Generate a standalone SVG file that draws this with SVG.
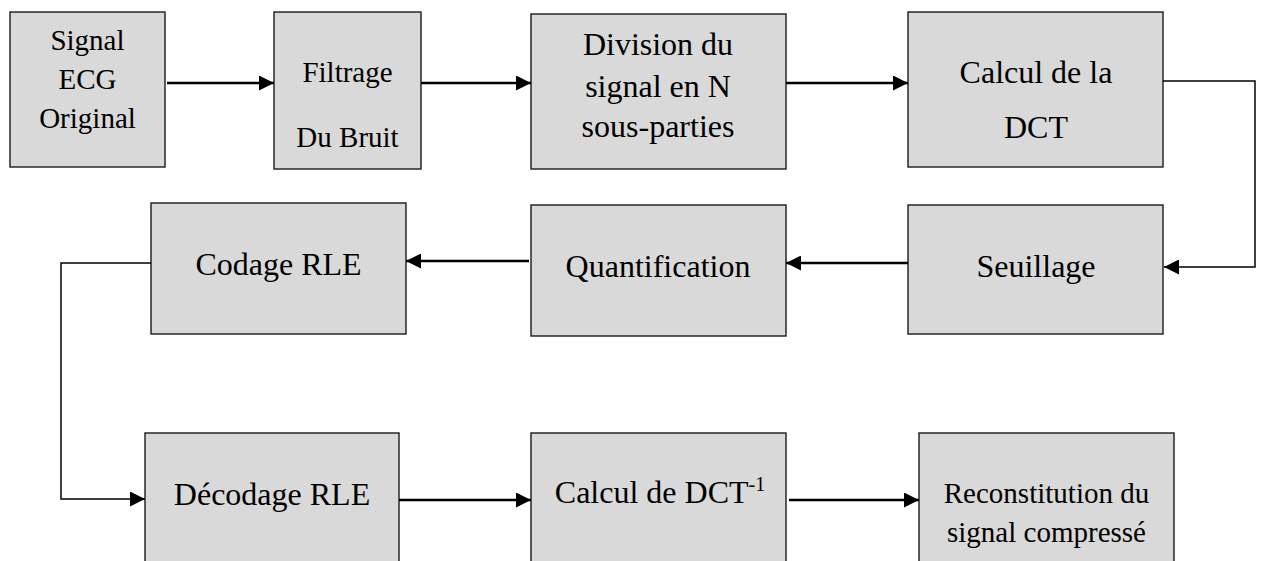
<svg xmlns="http://www.w3.org/2000/svg" width="1262" height="561" viewBox="0 0 1262 561">
<style>
.box{fill:#d9d9d9;stroke:#1a1a1a;stroke-width:1.4}
text{font-size:32px;fill:#000;text-anchor:middle}
.s{font-size:29px}
.a{fill:none;stroke:#000;stroke-width:2.4}
.e{fill:none;stroke:#000;stroke-width:1.5}
</style>
<defs>
<marker id="ah" markerWidth="15" markerHeight="15" refX="15" refY="7.5" orient="auto" markerUnits="userSpaceOnUse">
<path d="M0,0 L15,7.5 L0,15 Z" fill="#000"/>
</marker>
</defs>
<rect width="1262" height="561" fill="#fff"/>
<g font-family="Liberation Serif, Times New Roman, DejaVu Serif, serif">
<g id="n1"><rect class="box" x="10" y="12" width="155" height="155"/>
<text class="s" x="87.5" y="50">Signal</text><text class="s" x="87.5" y="89">ECG</text><text class="s" x="87.5" y="128">Original</text></g>
<g id="n2"><rect class="box" x="274" y="12" width="147" height="157"/>
<text class="s" x="347.5" y="82">Filtrage</text><text class="s" x="347.5" y="147">Du Bruit</text></g>
<g id="n3"><rect class="box" x="531" y="14" width="255" height="155"/>
<text x="658" y="55">Division du</text><text x="658" y="97">signal en N</text><text x="658" y="137">sous-parties</text></g>
<g id="n4"><rect class="box" x="908" y="12" width="255" height="155"/>
<text x="1036" y="83">Calcul de la</text><text x="1036" y="138">DCT</text></g>
<g id="n5"><rect class="box" x="908" y="205" width="255" height="129"/>
<text x="1036" y="277">Seuillage</text></g>
<g id="n6"><rect class="box" x="531" y="205" width="255" height="131"/>
<text x="658" y="277">Quantification</text></g>
<g id="n7"><rect class="box" x="151" y="203" width="255" height="131"/>
<text x="278.5" y="275">Codage RLE</text></g>
<g id="n8"><rect class="box" x="145" y="433" width="254" height="145"/>
<text x="272" y="505">Décodage RLE</text></g>
<g id="n9"><rect class="box" x="531" y="433" width="255" height="145"/>
<text x="660" y="503">Calcul de DCT<tspan font-size="20" dy="-12">-1</tspan></text></g>
<g id="n10"><rect class="box" x="919" y="433" width="255" height="145"/>
<text class="s" x="1046.5" y="503">Reconstitution du</text><text class="s" x="1046.5" y="542">signal compressé</text></g>
</g>
<g id="connectors">
<path class="a" d="M167,83 H274" marker-end="url(#ah)"/>
<path class="a" d="M421,83 H531" marker-end="url(#ah)"/>
<path class="a" d="M786,83 H908" marker-end="url(#ah)"/>
<path class="e" d="M1163,81 H1255 V267 H1164" marker-end="url(#ah)"/>
<path class="a" d="M908,263 H786" marker-end="url(#ah)"/>
<path class="a" d="M529,261 H406" marker-end="url(#ah)"/>
<path class="e" d="M151,263 H61 V499 H145" marker-end="url(#ah)"/>
<path class="a" d="M399,500 H531" marker-end="url(#ah)"/>
<path class="a" d="M789,500 H919" marker-end="url(#ah)"/>
</g>
</svg>
